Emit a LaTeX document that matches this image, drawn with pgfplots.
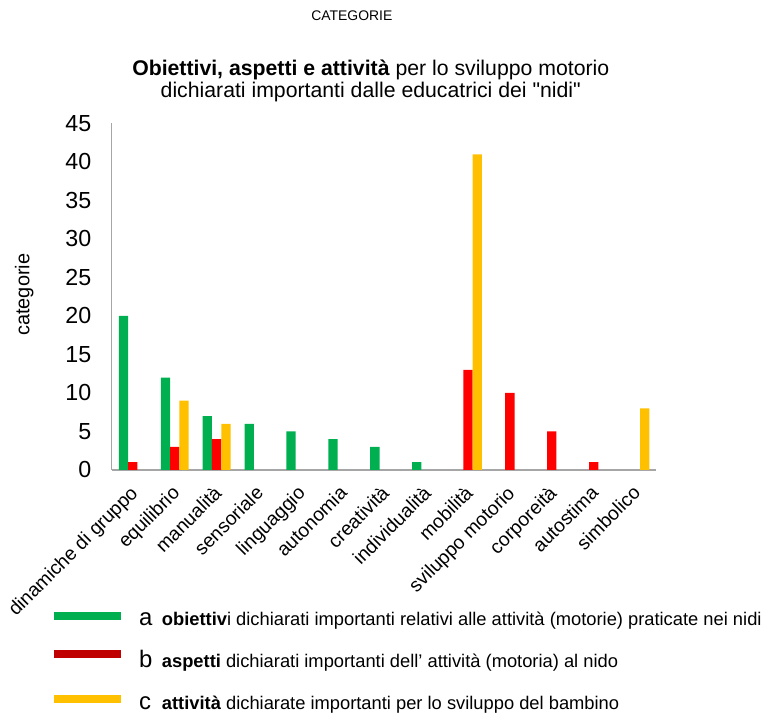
\documentclass[border=0pt]{standalone}
\usepackage{fontspec}
\setmainfont{Liberation Sans}[Ligatures=TeXOff]
\usepackage{pgfplots}
\pgfplotsset{compat=1.18}

\definecolor{verde}{HTML}{00B050}
\definecolor{rosso}{HTML}{FF0000}
\definecolor{giallo}{HTML}{FFC000}
\definecolor{rossoscuro}{HTML}{C00000}

\begin{document}
\begin{tikzpicture}
% pixel frame of the reference: (0,0) top left, axis corner at (109,472)
\begin{scope}[x=0.75pt, y=-0.75pt, shift={(-81.75pt,354pt)}]
  \useasboundingbox (0,0) rectangle (768,718);
\end{scope}

\begin{axis}[
  at={(0,0)}, anchor=south west,
  scale only axis, width=410.25pt, height=261pt,
  ybar=0pt, bar width=7pt,
  xmin=-0.5, xmax=12.5, ymin=0, ymax=45,
  axis x line*=bottom, axis y line*=left,
  axis line style={-, draw=gray!70, line width=0.9pt},
  major tick length=0pt,
  xtick={0,...,12},
  xticklabels={dinamiche di gruppo, equilibrio, manualità, sensoriale, linguaggio, autonomia, creatività, individualità, mobilità, sviluppo motorio, corporeità, autostima, simbolico},
  xticklabel style={xshift=-3pt, yshift=-6pt, rotate=45, anchor=north east, font=\fontsize{14.5}{14.5}\selectfont},
  ytick={0,5,...,45},
  yticklabel style={xshift=-12pt, font=\fontsize{17.5}{17.5}\selectfont},
  /pgf/number format/assume math mode=true,
]
% a: obiettivi
\addplot[fill=verde, draw=none] coordinates {
  (0,20) (1,12) (2,7) (3,6) (4,5) (5,4) (6,3) (7,1)
};
% b: aspetti
\addplot[fill=rosso, draw=none] coordinates {
  (0,1) (1,3) (2,4) (8,13) (9,10) (10,5) (11,1)
};
% c: attivita
\addplot[fill=giallo, draw=none] coordinates {
  (1,9) (2,6) (8,41) (12,8)
};
\end{axis}

\begin{scope}[x=0.75pt, y=-0.75pt, shift={(-81.75pt,354pt)}]
  \node[font=\fontsize{10.5}{10.5}\selectfont] at (350,16) {CATEGORIE};
  \node[align=center, font=\fontsize{16}{16.8}\selectfont] at (369,81)
    {\textbf{Obiettivi, aspetti e attività} per lo sviluppo motorio\\
     dichiarati importanti dalle educatrici dei "nidi"};
  \node[rotate=90, font=\fontsize{15}{15}\selectfont] at (21,296) {categorie};

  % legenda
  \draw[line width=6pt, verde] (51,619) -- (118,619);
  \draw[line width=6pt, rossoscuro] (51,657) -- (118,657);
  \draw[line width=6pt, giallo] (51,702.5) -- (118,702.5);
  \begin{scope}[every node/.style={anchor=base west, inner sep=0pt}]
    \node[font=\fontsize{18}{18}\selectfont] at (136,628) {a};
    \node[font=\fontsize{18}{18}\selectfont] at (136,670) {b};
    \node[font=\fontsize{18}{18}\selectfont] at (136,713) {c};
    \node[font=\fontsize{13.8}{13.8}\selectfont] at (159,628)
      {\textbf{obiettiv}i dichiarati importanti relativi alle attività (motorie) praticate nei nidi};
    \node[font=\fontsize{13.8}{13.8}\selectfont] at (159,670)
      {\textbf{aspetti} dichiarati importanti dell’ attività (motoria) al nido};
    \node[font=\fontsize{13.8}{13.8}\selectfont] at (159,713)
      {\textbf{attività} dichiarate importanti per lo sviluppo del bambino};
  \end{scope}
\end{scope}
\end{tikzpicture}
\end{document}
